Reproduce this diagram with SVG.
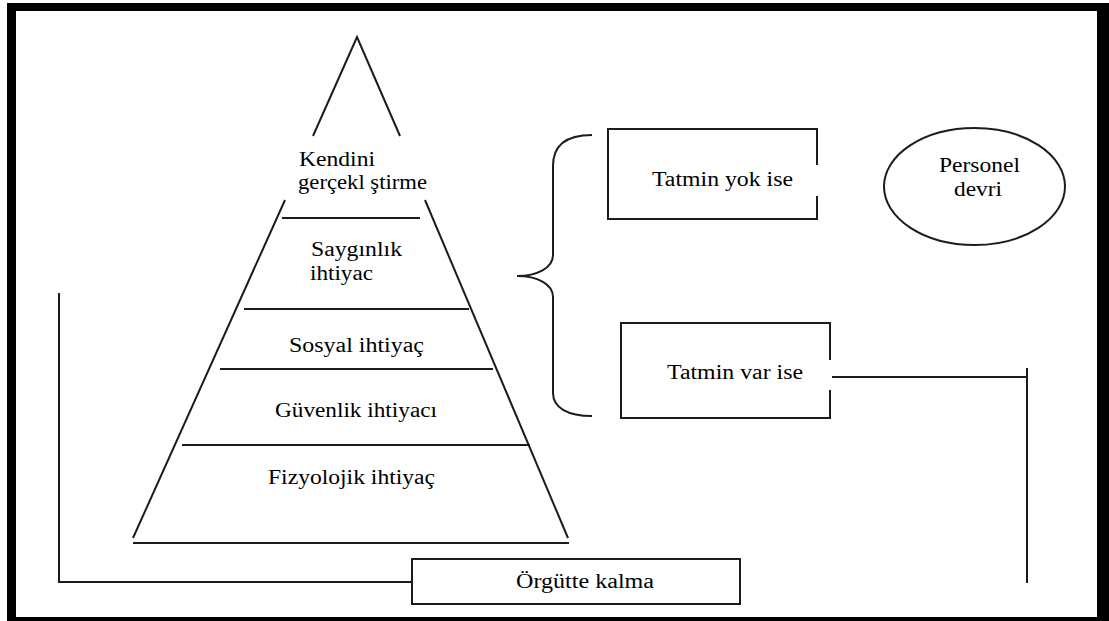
<svg xmlns="http://www.w3.org/2000/svg" width="1109" height="621" viewBox="0 0 1109 621">
  <rect x="0" y="0" width="1109" height="621" fill="#ffffff"/>
  <!-- heavy outer frame -->
  <path d="M7,3 H1109 V621 H7 Z M16,11 V617 H1097 V11 Z" fill="#000" fill-rule="evenodd"/>

  <defs>
    <!-- one outline look shared by every drawn stroke -->
    <path id="brace-shape" d="M592,135 C566,135 553,146 553,166 L553,255 C553,268 537,276 517,276 C537,276 553,284 553,297 L553,393 C553,408 568,416 592,416"/>
  </defs>

  <!-- need hierarchy pyramid -->
  <g id="pyramid">
    <path fill="none" stroke="#1c1c1c" stroke-width="2" d="M313,136 L357,37 L400,136 M285,200 L133,538 M425,200 L568,538 M282,218 H420 M244,309 H469 M220,369 H493 M182,445 H530 M133,543 H569"/>
    <text x="299" y="166" font-family="Liberation Serif" font-size="20" textLength="76" lengthAdjust="spacingAndGlyphs">Kendini</text>
    <text x="298" y="189" font-family="Liberation Serif" font-size="20" textLength="129" lengthAdjust="spacingAndGlyphs">gerçekl ştirme</text>
    <text x="311" y="256" font-family="Liberation Serif" font-size="20" textLength="91" lengthAdjust="spacingAndGlyphs">Saygınlık</text>
    <text x="310" y="280" font-family="Liberation Serif" font-size="20" textLength="63" lengthAdjust="spacingAndGlyphs">ihtiyac</text>
    <text x="289" y="352" font-family="Liberation Serif" font-size="20" textLength="135" lengthAdjust="spacingAndGlyphs">Sosyal ihtiyaç</text>
    <text x="275" y="417" font-family="Liberation Serif" font-size="20" textLength="162" lengthAdjust="spacingAndGlyphs">Güvenlik ihtiyacı</text>
    <text x="268" y="484" font-family="Liberation Serif" font-size="20" textLength="167" lengthAdjust="spacingAndGlyphs">Fizyolojik ihtiyaç</text>
  </g>

  <!-- curly brace grouping the two outcomes -->
  <g id="brace">
    <use href="#brace-shape" fill="none" stroke="#1c1c1c" stroke-width="2"/>
  </g>

  <g id="tatmin-yok">
    <path fill="none" stroke="#1c1c1c" stroke-width="2" d="M817,165 V129 H608 V219 H817 V196"/>
    <text x="652" y="186" font-family="Liberation Serif" font-size="20" textLength="141" lengthAdjust="spacingAndGlyphs">Tatmin yok ise</text>
  </g>

  <g id="tatmin-var">
    <path fill="none" stroke="#1c1c1c" stroke-width="2" d="M830,360 V323 H621 V418 H830 V390"/>
    <text x="667" y="379" font-family="Liberation Serif" font-size="20" textLength="136" lengthAdjust="spacingAndGlyphs">Tatmin var ise</text>
  </g>

  <g id="personel-devri">
    <ellipse fill="none" stroke="#1c1c1c" stroke-width="2" cx="974.5" cy="186.5" rx="90.5" ry="58.5"/>
    <text x="939" y="172" font-family="Liberation Serif" font-size="20" textLength="81" lengthAdjust="spacingAndGlyphs">Personel</text>
    <text x="954" y="196" font-family="Liberation Serif" font-size="20" textLength="48" lengthAdjust="spacingAndGlyphs">devri</text>
  </g>

  <g id="orgutte-kalma">
    <rect fill="none" stroke="#1c1c1c" stroke-width="2" x="412" y="559" width="328" height="45"/>
    <text x="516" y="588" font-family="Liberation Serif" font-size="20" textLength="138" lengthAdjust="spacingAndGlyphs">Örgütte kalma</text>
  </g>

  <!-- connectors -->
  <g id="connectors" fill="none" stroke="#1c1c1c" stroke-width="2">
    <polyline points="59,293 59,582 412,582"/>
    <line x1="832" y1="377" x2="1027" y2="377"/>
    <line x1="1027" y1="368" x2="1027" y2="583"/>
  </g>
</svg>
